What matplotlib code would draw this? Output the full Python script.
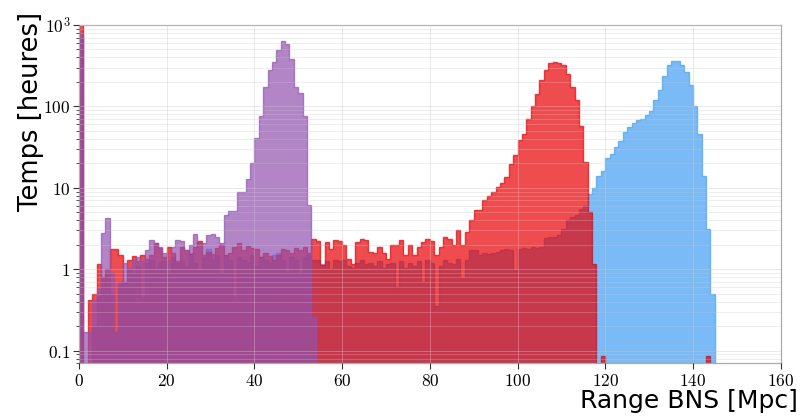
import matplotlib
matplotlib.use("Agg")
import matplotlib.pyplot as plt
import numpy as np
from matplotlib.ticker import FixedLocator, FuncFormatter, LogLocator

plt.rcParams['mathtext.fontset'] = 'cm'

# hours per 1 Mpc bin, bins start at 0
virgo = [800, 0.17, 0.17, 0.42, 0.58, 2.8, 4.3, 0.9, 0.17, 0.7,
         1.2, 1.05, 1.3, 1.4, 1.25, 1.7, 2.3, 2.1, 1.9, 1.6,
         1.3, 1.85, 2.3, 2.2, 1.7, 2.0, 2.7, 2.1, 2.1, 2.6,
         2.7, 2.5, 2.1, 4.6, 5.2, 5.2, 8.9, 8.9, 13, 20,
         41, 77, 173, 277, 350, 497, 635, 590, 377, 174,
         147, 76, 6.1, 0.26]

hanford = [1500, 0, 0.42, 0.49, 1.17, 0.8, 1.0, 1.75, 1.75, 1.5,
           0.68, 1.3, 1.45, 1.25, 1.5, 1.35, 1.5, 2.1, 1.8, 1.4,
           1.85, 1.6, 1.25, 1.9, 1.7, 1.55, 1.9, 2.2, 1.5, 1.65,
           1.55, 1.8, 2.0, 1.5, 1.6, 1.9, 2.1, 1.7, 1.95, 1.8,
           1.75, 1.4, 1.6, 1.45, 1.3, 1.5, 1.75, 1.7, 1.6, 1.8,
           1.7, 1.85, 1.6, 2.38, 2.2, 1.12, 2.15, 1.79, 2.31, 2.2,
           1.97, 1.35, 1.17, 2.15, 2.38, 2.3, 1.63, 1.6, 1.85, 1.58,
           1.35, 1.97, 2.0, 2.28, 1.5, 1.97, 1.5, 1.88, 2.15, 2.38,
           2.2, 1.5, 1.88, 2.49, 2.38, 1.97, 3.0, 1.97, 2.9, 4.0,
           5.3, 5.3, 7.0, 8.0, 9.0, 10.3, 11.3, 13.6, 19.8, 25,
           39, 46, 70, 101, 143, 208, 277, 340, 350, 345,
           325, 250, 173, 121, 58, 21, 5.0, 1.17, 0, 0.085,
           0, 0, 0, 0, 0, 0, 0, 0, 0, 0,
           0, 0, 0, 0, 0, 0, 0, 0, 0, 0,
           0, 0, 0, 0.085]

livingston = [700, 0, 0, 0.2, 0.45, 0.75, 0.9, 0.5, 0.17, 0.65,
              0.7, 1.0, 0.9, 1.1, 0.45, 1.2, 1.3, 1.0, 1.2, 1.25,
              0.9, 1.4, 1.2, 1.3, 1.1, 1.6, 1.2, 1.0, 1.4, 1.75,
              1.3, 1.5, 0.9, 1.5, 1.3, 0.45, 1.4, 1.3, 1.2, 1.5,
              1.1, 1.4, 1.3, 1.2, 1.5, 1.6, 1.3, 0.9, 1.4, 1.3,
              0.9, 1.4, 1.5, 1.3, 1.3, 1.15, 1.25, 1.0, 1.3, 1.25,
              1.3, 1.1, 1.05, 1.2, 1.3, 1.15, 1.2, 1.1, 1.25, 1.05,
              1.15, 1.2, 0.61, 1.25, 1.05, 1.2, 1.1, 1.25, 0.7, 1.3,
              1.2, 0.35, 1.1, 1.3, 1.2, 1.15, 1.35, 0.78, 1.3, 1.7,
              1.7, 1.5, 1.6, 1.55, 1.6, 1.65, 1.7, 1.75, 1.7, 0.97,
              1.75, 1.8, 1.75, 1.85, 1.8, 1.9, 2.4, 2.5, 2.5, 2.6,
              3.1, 4.0, 4.4, 4.6, 5.5, 6.0, 8.5, 10, 14, 15.9,
              23.5, 26.3, 31.7, 38, 48, 56, 63, 69, 70, 79,
              89, 121, 160, 238, 318, 363, 363, 325, 264, 181,
              101, 46, 13.8, 3.16, 0.5]

colors = {'livingston': (66/255, 159/255, 245/255),
          'hanford': (233/255, 0, 4/255),
          'virgo': (146/255, 82/255, 176/255)}

fig = plt.figure(figsize=(8.03, 4.16), dpi=100)
ax = fig.add_axes([0.0984, 0.1267, 0.8737, 0.8133])

for name, vals in [('livingston', livingston), ('hanford', hanford), ('virgo', virgo)]:
    vals = np.array(vals, dtype=float)
    edges = np.arange(len(vals) + 1)
    centers = edges[:-1] + 0.5
    ax.hist(centers, bins=edges, weights=vals, histtype='stepfilled',
            facecolor=colors[name], edgecolor=colors[name], alpha=0.7,
            linewidth=1.0, log=True)

ax.set_yscale('log')
ax.set_xlim(0, 160)
ax.set_ylim(0.07, 1000)

ax.xaxis.set_major_locator(FixedLocator(np.arange(0, 161, 20)))
ax.xaxis.set_major_formatter(FuncFormatter(lambda v, p: r'$%d$' % v))
ax.yaxis.set_major_locator(FixedLocator([0.1, 1, 10, 100, 1000]))
ax.yaxis.set_minor_locator(LogLocator(base=10, subs=np.arange(2, 10), numticks=20))
ylab = {0.1: r'$0.1$', 1: r'$1$', 10: r'$10$', 100: r'$100$', 1000: r'$10^3$'}
ax.yaxis.set_major_formatter(FuncFormatter(lambda v, p: ylab.get(round(v, 3), '')))
ax.tick_params(axis='both', which='major', labelsize=12.5, length=4, width=0.8,
               color='#333333', direction='out', pad=2)
ax.tick_params(axis='y', which='minor', length=2, width=0.6, color='#333333')

ax.set_axisbelow(False)
ax.grid(True, which='major', color='#c8c8c8', alpha=0.4, linewidth=0.7)
ax.grid(True, which='minor', axis='y', color='#c8c8c8', alpha=0.35, linewidth=0.6)

for s in ax.spines.values():
    s.set_color('#aaaaaa')
    s.set_linewidth(0.9)

ax.set_xlabel('Range BNS [Mpc]', fontsize=18, ha='right')
ax.xaxis.set_label_coords(1.025, -0.076)
ax.set_ylabel('Temps [heures]', fontsize=18.5, ha='center')
ax.yaxis.set_label_coords(-0.05, 0.745)

fig.savefig('out.png', dpi=100)
